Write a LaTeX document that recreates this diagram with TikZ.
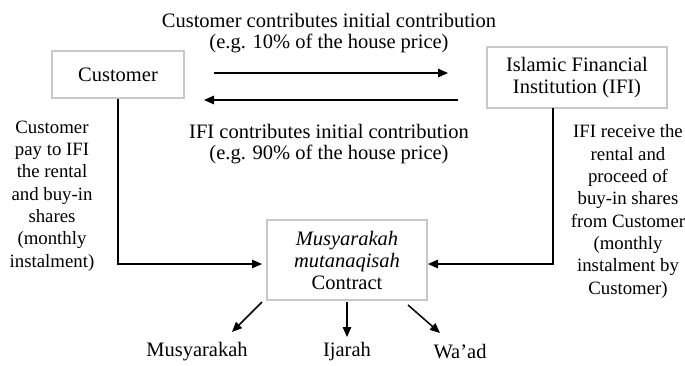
\documentclass[tikz,border=0pt]{standalone}
\usepackage{fontspec}
\setmainfont{Liberation Serif}
\usetikzlibrary{arrows.meta,calc}
\definecolor{boxgray}{RGB}{200,200,200}
\begin{document}
\begin{tikzpicture}[x=1pt,y=-1pt,
  party/.style={draw=boxgray,line width=1.8pt,inner sep=0pt,align=center,
    font=\fontsize{20.5}{22}\selectfont},
  flowtext/.style={align=center,inner sep=0pt,font=\fontsize{20.5}{21}\selectfont},
  sidetext/.style={align=center,inner sep=0pt,font=\fontsize{18.8}{22.3}\selectfont},
  arr/.style={line width=1.5pt,-{Triangle[length=10pt,width=8.5pt]}},
  plain/.style={line width=1.5pt}]
\useasboundingbox (0,0) rectangle (685,365);

% parties and contract
\node[party,minimum width=132pt,minimum height=47pt] (cust) at (118,74.5) {Customer};
\node[party,minimum width=180pt,minimum height=61pt] (ifi) at (577,77.5) {Islamic Financial\\Institution (IFI)};
\node[party,minimum width=160pt,minimum height=80pt] (contract) at (347,260)
  {\textit{Musyarakah}\\\textit{mutanaqisah}\\Contract};

% texts along the flows
\node[flowtext] (top) at (329,33) {Customer contributes initial contribution\\(e.g. 10\% of the house price)};
\node[flowtext] (bot) at (329,144) {IFI contributes initial contribution\\(e.g. 90\% of the house price)};
\node[sidetext] (left) at (52,196) {Customer\\pay to IFI\\the rental\\and buy-in\\shares\\(monthly\\instalment)};
\node[sidetext] (right) at (628,211.5) {IFI receive the\\rental and\\proceed of\\buy-in shares\\from Customer\\(monthly\\instalment by\\Customer)};

% components of the contract
\node[flowtext] (musy) at (197,352) {Musyarakah};
\node[flowtext] (ijarah) at (347,352) {Ijarah};
\node[flowtext] (waad) at (460,352) {Wa’ad};

% end points of the connectors
\coordinate (c1) at (214,73);
\coordinate (i1) at (448,73);
\coordinate (i2) at (458,100);
\coordinate (c2) at (204,100);
\coordinate (cin) at (262,264);
\coordinate (iin) at (428,264);
\coordinate (iout) at (553,108);
\coordinate (m1) at (262,302);
\coordinate (m2) at (232,332);
\coordinate (j1) at (347,302);
\coordinate (j2) at (347,337);
\coordinate (w1) at (408,305);
\coordinate (w2) at (440,333);

% contribution arrows
\draw[arr] (c1) -- (i1);
\draw[arr] (i2) -- (c2);

% monthly payments into the contract
\draw[arr] (cust.south) |- (cin);
\draw[arr] (iout) |- (iin);

% contract components
\draw[arr] (m1) -- (m2);
\draw[arr] (j1) -- (j2);
\draw[arr] (w1) -- (w2);
\end{tikzpicture}
\end{document}
